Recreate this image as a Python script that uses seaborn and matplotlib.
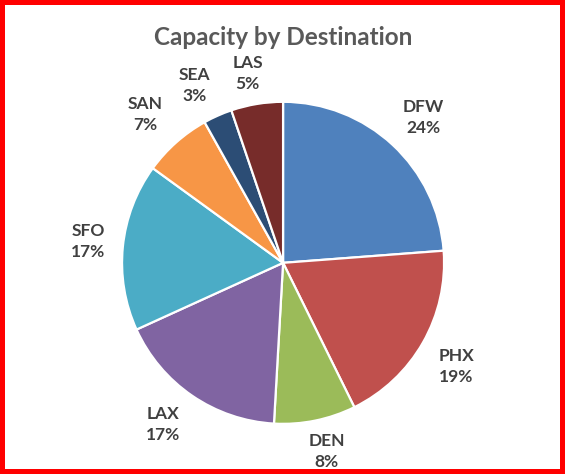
import numpy as np
import matplotlib.pyplot as plt
import seaborn as sns

destinations = ['DFW', 'PHX', 'DEN', 'LAX', 'SFO', 'SAN', 'SEA', 'LAS']
capacity_share = [23.8, 18.9, 8.2, 17.3, 16.8, 6.9, 2.9, 5.2]
slice_colors = ['#4F81BD', '#C0504D', '#9BBB59', '#8064A2', '#4BACC6', '#F79646', '#2C4D75', '#772C2A']

sns.set_theme(style='white')
plt.rcParams['font.family'] = ['Lato', 'DejaVu Sans']

total = sum(capacity_share)
labels = [f'{d}\n{v / total * 100:.0f}%' for d, v in zip(destinations, capacity_share)]

fig = plt.figure(figsize=(5.65, 4.74), dpi=100, edgecolor='red', linewidth=7)
ax = fig.add_axes([0.045, -0.098, 0.912, 1.087])

wedges, texts = ax.pie(capacity_share, labels=labels, colors=sns.color_palette(slice_colors),
                       startangle=90, counterclock=False,
                       wedgeprops={'edgecolor': 'white', 'linewidth': 1.6})

# excel-style label placement: label box sits just outside the rim
for w, t in zip(wedges, texts):
    a = np.deg2rad((w.theta1 + w.theta2) / 2)
    c, s = np.cos(a), np.sin(a)
    x = 1.08 * c + 0.137 * np.sign(c) * min(1, abs(c) * 2)
    y = 1.08 * s + 0.112 * np.sign(s) * min(1, abs(s) * 2)
    t.set_position((x, y))
    t.set_horizontalalignment('center')
    t.set_verticalalignment('center')
    t.set_fontsize(12.5)
    t.set_fontweight('bold')
    t.set_color('#404040')
    t.set_linespacing(1.4)

ax.set_xlim(-1.6, 1.6)
ax.set_ylim(-1.6, 1.6)
ax.axis('off')

fig.text(0.501, 0.905, 'Capacity by Destination', ha='center', va='baseline',
         fontsize=17.5, fontweight='bold', color='#595959')

plt.savefig('out.png', dpi=100)
